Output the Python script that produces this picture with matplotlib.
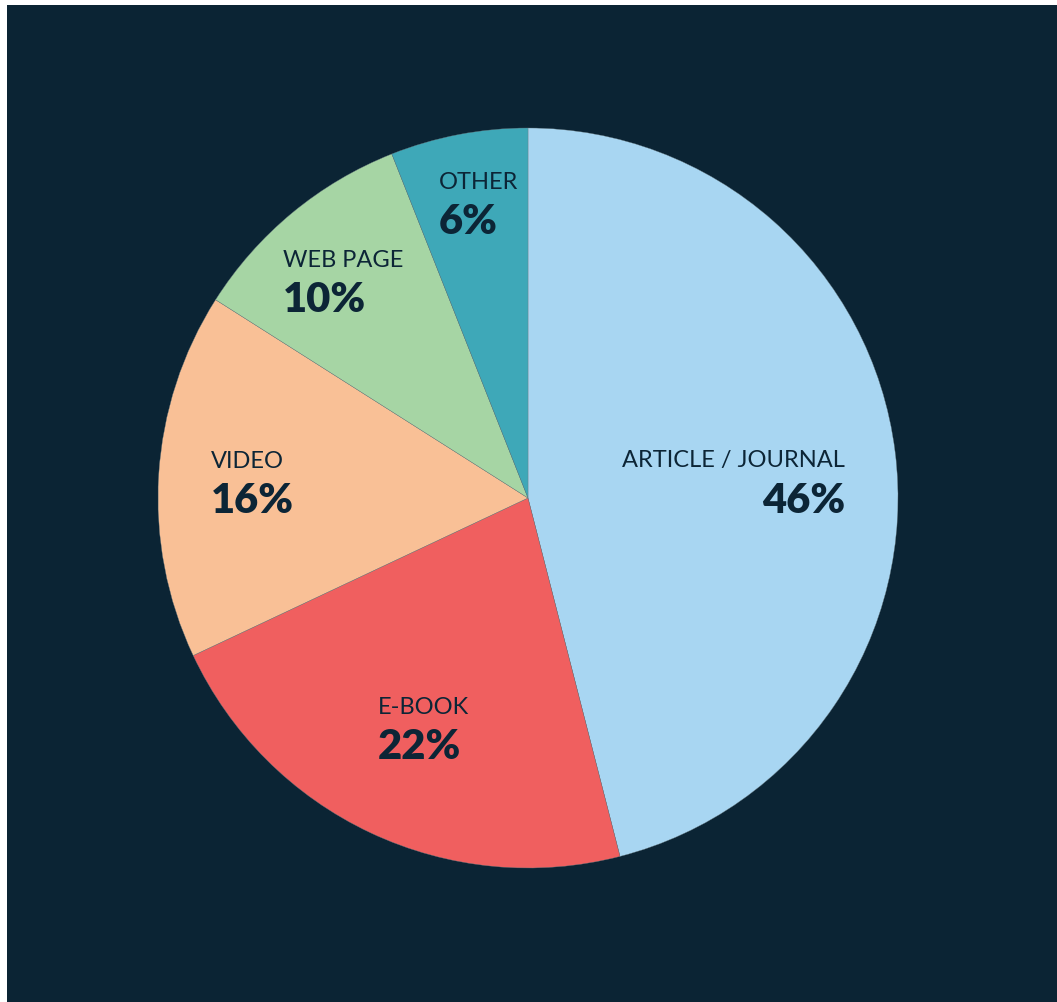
import matplotlib
matplotlib.use("Agg")
import matplotlib.pyplot as plt
from matplotlib.patches import Rectangle

# share of resources by type
labels = ["ARTICLE / JOURNAL", "E-BOOK", "VIDEO", "WEB PAGE", "OTHER"]
shares = [46, 22, 16, 10, 6]
colors = ["#a8d6f2", "#f05f5f", "#f9c096", "#a6d5a4", "#3ea8b8"]

# where each label block sits (pie radius = 1), and how it is aligned
label_xy = [(0.857, 0.100), (-0.405, -0.565), (-0.857, 0.100),
            (-0.662, 0.641), (-0.241, 0.854)]
label_ha = ["right", "left", "left", "left", "left"]

bg = "#0b2434"
ink = "#0c2536"

plt.rcParams['font.family'] = ['Lato', 'DejaVu Sans']

fig = plt.figure(figsize=(10.57, 10.02), dpi=100, facecolor="white")
# dark panel, leaving a thin white strip on the left and top
fig.patches.append(Rectangle((7 / 1057, 0), 1, 997 / 1002, transform=fig.transFigure,
                             facecolor=bg, edgecolor="none", zorder=-10))

W, H = 1057, 1002
cx, cy, r = 528, 1002 - 498, 370
ax = fig.add_axes([(cx - r) / W, (cy - r) / H, 2 * r / W, 2 * r / H])
ax.set_facecolor("none")

wedges, _ = ax.pie(shares, colors=colors, startangle=90, counterclock=False,
                   radius=1, wedgeprops=dict(linewidth=0.25, edgecolor="#6a7a80"))
ax.set_xlim(-1, 1)
ax.set_ylim(-1, 1)
ax.set_aspect("equal")
ax.axis("off")

for name, val, (x, y), ha in zip(labels, shares, label_xy, label_ha):
    ax.text(x, y, name, ha=ha, va="center", fontsize=17, color=ink)
    ax.text(x, y - 0.107, f"{val}%", ha=ha, va="center", fontsize=30,
            fontweight="heavy", color=ink)

fig.savefig("out.png", dpi=100, facecolor=fig.get_facecolor())
